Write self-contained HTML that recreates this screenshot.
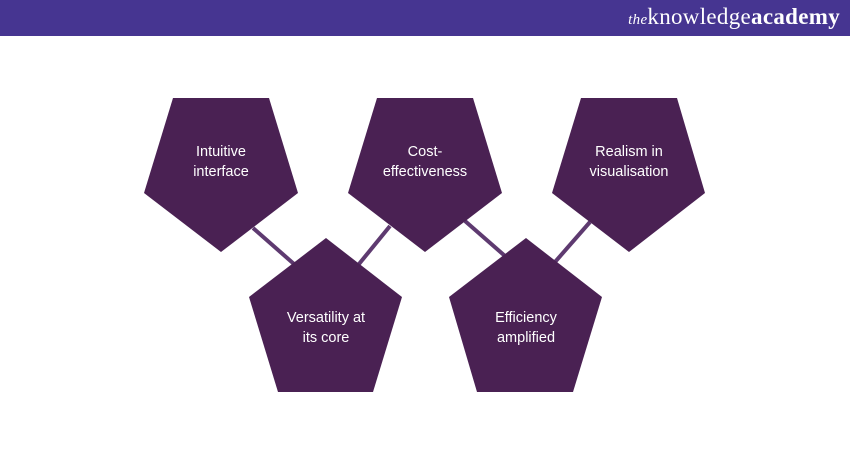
<!DOCTYPE html>
<html><head><style>
html,body{margin:0;padding:0;background:#fff;width:850px;height:450px;overflow:hidden}
.hdr{position:absolute;left:0;top:0;width:850px;height:36px;background:#463591}
.logo{position:absolute;right:10px;top:4px;color:#fff;font-family:"Liberation Serif",serif;font-size:23px;letter-spacing:0.3px}
.logo i{font-size:15px}
.t{font-family:"Liberation Sans",sans-serif;font-size:14.5px;fill:#fff;text-anchor:middle}
</style></head><body>
<div class="hdr"><div class="logo"><i>the</i>knowledge<b style="font-weight:bold">academy</b></div></div>
<svg width="850" height="450" style="position:absolute;left:0;top:0">
<g stroke="#5e3a70" stroke-width="4">
<line x1="253" y1="228" x2="294" y2="264"/>
<line x1="390" y1="226" x2="359" y2="264"/>
<line x1="465" y1="221" x2="505" y2="256"/>
<line x1="590" y1="222" x2="555" y2="262"/>
</g>
<g fill="#4a2153">
<polygon points="173,98 269,98 298,193 221,252 144,193"/>
<polygon points="377,98 473,98 502,193 425,252 348,193"/>
<polygon points="581,98 677,98 705,193 629,252 552,193"/>
<polygon points="326,238 402,297 373,392 278,392 249,297"/>
<polygon points="526,238 602,297 573,392 477,392 449,297"/>
</g>
<text class="t" x="221" y="156">Intuitive</text><text class="t" x="221" y="176">interface</text>
<text class="t" x="425" y="156">Cost-</text><text class="t" x="425" y="176">effectiveness</text>
<text class="t" x="629" y="156">Realism in</text><text class="t" x="629" y="176">visualisation</text>
<text class="t" x="326" y="322">Versatility at</text><text class="t" x="326" y="342">its core</text>
<text class="t" x="526" y="322">Efficiency</text><text class="t" x="526" y="342">amplified</text>
</svg>
</body></html>
